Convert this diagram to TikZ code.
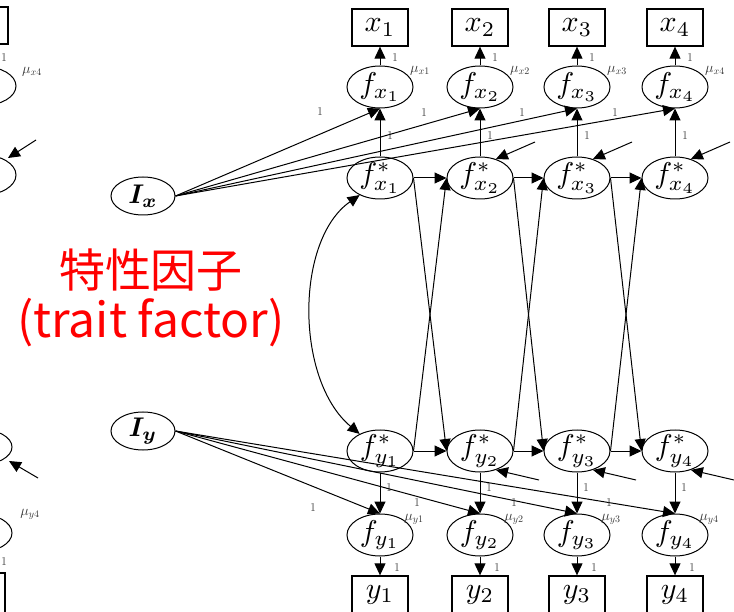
\documentclass[tikz,border=0pt]{standalone}
\usepackage{fontspec}
\usepackage{bm}
\usepackage{graphicx}
\newfontfamily\cjk{Noto Sans CJK JP}
\usetikzlibrary{arrows.meta,shapes.geometric}
\newcommand{\scl}[2]{\scalebox{#1}{#2}}
\begin{document}
\begin{tikzpicture}[x=1pt,y=-1pt,
  lat/.style={ellipse,draw,line width=1pt,minimum width=66pt,minimum height=42pt,inner sep=0pt},
  obs/.style={rectangle,draw,line width=1.3pt,minimum width=56pt,minimum height=37pt,inner sep=0pt},
  intc/.style={ellipse,draw,line width=1pt,minimum width=64pt,minimum height=38pt,inner sep=0pt},
  lbl/.style={inner sep=0pt},
  arr/.style={-{Triangle[length=12pt,width=11pt]},line width=1pt},
  darr/.style={{Triangle[length=12pt,width=11pt]}-{Triangle[length=12pt,width=11pt]},line width=1pt},
  one/.style={font=\fontsize{12}{12}\selectfont,inner sep=0pt,text=black!75},
  mulab/.style={font=\fontsize{14.4}{14.4}\selectfont,inner sep=0pt,text=black!80},
  redtxt/.style={text=red,inner sep=0pt}]
\useasboundingbox (0,0) rectangle (734,612);

% fragments of the neighbouring diagram on the left edge
\begin{scope}
\clip (0,0) rectangle (734,612);
\draw[line width=1.3pt] (-48,7) rectangle (8,44);
\draw[line width=1pt] (-17,86) ellipse [x radius=33pt, y radius=19.5pt];
\draw[line width=1pt] (-17,175) ellipse [x radius=33pt, y radius=20pt];
\draw[line width=1pt] (-21,447) ellipse [x radius=33pt, y radius=18pt];
\draw[line width=1pt] (-21,533) ellipse [x radius=33pt, y radius=19pt];
\draw[line width=1.3pt] (-51,573) rectangle (5,620);
\draw[arr] (36,140) -- (8,158);
\draw[arr] (38,478) -- (9,461);
\node[mulab] at (32,72) {$\mu_{x4}$};
\node[mulab] at (30,514) {$\mu_{y4}$};
\node[one] at (4,58) {1};
\node[one] at (4,562) {1};
\end{scope}

% intercept factors
\node[intc, label={[lbl]center:\scl{2.7}{$\bm{I_x}$}}] (Ix) at (143,196) {};
\node[intc, label={[lbl]center:\scl{2.7}{$\bm{I_y}$}}] (Iy) at (143,431) {};

% columns
\foreach \i/\x in {1/380,2/480,3/577,4/675} {
  \node[obs, label={[lbl]center:\scl{3.0}{$x_{\i}$}}] (x\i) at (\x,27.5) {};
  \node[lat, label={[lbl]center:\scl{3.0}{$f_{x_{\i}}$}}] (fx\i) at (\x,87) {};
  \node[lat, label={[lbl]center:\scl{3.0}{$f^{*}_{x_{\i}}$}}] (sx\i) at (\x,178) {};
  \node[lat, label={[lbl]center:\scl{3.0}{$f^{*}_{y_{\i}}$}}] (sy\i) at (\x,451) {};
  \node[lat, label={[lbl]center:\scl{3.0}{$f_{y_{\i}}$}}] (fy\i) at (\x,535) {};
  \node[obs, label={[lbl]center:\scl{3.0}{$y_{\i}$}}] (y\i) at (\x,594.5) {};
  \draw[arr] (fx\i.north) -- (x\i.south);
  \draw[arr] (sx\i.north) -- (fx\i.south);
  \draw[arr] (Ix.east) -- (fx\i.south);
  \draw[arr] (sy\i.south) -- (fy\i.north);
  \draw[arr] (fy\i.south) -- (y\i.north);
  \draw[arr] (Iy.east) -- (fy\i.north);
  \node[one] (lbx\i) at (\x+15,58) {1};
  \node[one] (lsx\i) at (\x+10,136) {1};
  \node[one] (lsy\i) at (\x+9,488) {1};
  \node[one] (lby\i) at (\x+17,568) {1};
  \node[mulab] (mux\i) at (\x+40,71) {$\mu_{x\i}$};
  \node[mulab] (muy\i) at (\x+34,519) {$\mu_{y\i}$};
}

% labels of the intercept loadings
\node[one] (lix1) at (320,112) {1};
\node[one] (lix2) at (424,113) {1};
\node[one] (lix3) at (522,113) {1};
\node[one] (lix4) at (615,113) {1};
\node[one] (liy1) at (313,508) {1};
\node[one] (liy2) at (417,503) {1};
\node[one] (liy3) at (514,503) {1};
\node[one] (liy4) at (609,503) {1};

% autoregressive and cross-lagged paths
\foreach \i/\j in {1/2,2/3,3/4} {
  \draw[arr] (sx\i.east) -- (sx\j.west);
  \draw[arr] (sy\i.east) -- (sy\j.west);
  \draw[arr] (sx\i.east) -- (sy\j.west);
  \draw[arr] (sy\i.east) -- (sx\j.west);
}

% residuals
\foreach \i/\x in {2/480,3/577,4/675} {
  \coordinate (ex\i) at (\x+55,142);
  \coordinate (ey\i) at (\x+59,480);
  \draw[arr] (ex\i) -- (sx\i.50);
  \draw[arr] (ey\i) -- (sy\i.-50);
}

% covariance
\draw[darr] (sx1.220) .. controls (295,240) and (295,380) .. (sy1.140);

% red annotation
\node[redtxt,font=\cjk\fontsize{46}{46}\selectfont] (tf) at (151,270) {特性因子};
\node[redtxt,font=\cjk\fontsize{48}{48}\selectfont] (tfe) at (151,323) {(trait factor)};
\end{tikzpicture}
\end{document}
